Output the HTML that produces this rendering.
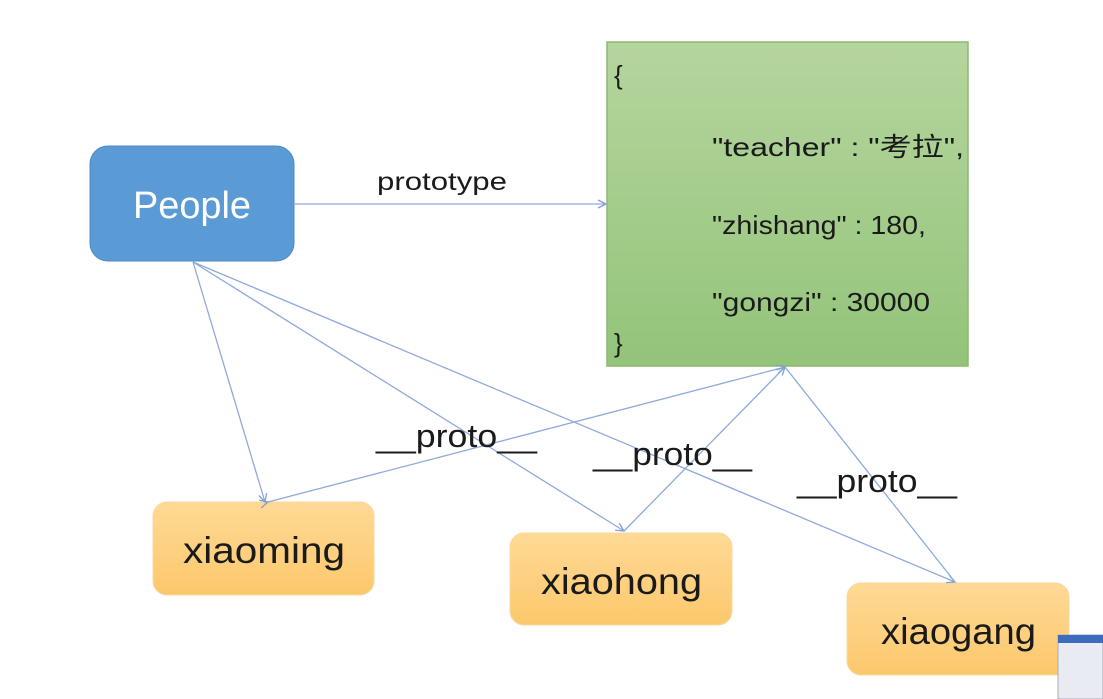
<!DOCTYPE html>
<html><head><meta charset="utf-8"><style>
html,body{margin:0;padding:0;background:#fff;}
svg{display:block;}
text{font-family:"Liberation Sans","Noto Sans CJK SC",sans-serif;}
</style></head><body>
<svg width="1103" height="699" viewBox="0 0 1103 699" xmlns="http://www.w3.org/2000/svg">
<defs>
<marker id="a" markerWidth="10" markerHeight="10" refX="9" refY="5" orient="auto" markerUnits="userSpaceOnUse">
<path d="M1,1 L9,5 L1,9" fill="none" stroke="#7f9fd8" stroke-width="1.3"/></marker>
<linearGradient id="g" x1="0" y1="0" x2="0" y2="1"><stop offset="0" stop-color="#b5d59e"/><stop offset="1" stop-color="#93c47a"/></linearGradient>
<linearGradient id="o" x1="0" y1="0" x2="0" y2="1"><stop offset="0" stop-color="#ffd996"/><stop offset="1" stop-color="#fcc86c"/></linearGradient>
</defs>
<rect x="607" y="42" width="361" height="324" fill="url(#g)" stroke="#8db871" stroke-width="1.5"/>
<text x="614" y="84" font-size="26" fill="#1a1a1a">{</text>
<text x="712" y="156" font-size="26" fill="#1a1a1a" textLength="252" lengthAdjust="spacingAndGlyphs">"teacher" : "考拉",</text>
<text x="712" y="234" font-size="26" fill="#1a1a1a" textLength="214" lengthAdjust="spacingAndGlyphs">"zhishang" : 180,</text>
<text x="712" y="311" font-size="26" fill="#1a1a1a" textLength="218" lengthAdjust="spacingAndGlyphs">"gongzi" : 30000</text>
<text x="614" y="352" font-size="26" fill="#1a1a1a">}</text>
<rect x="90" y="146" width="204" height="115" rx="18" fill="#5b9bd5" stroke="#4f8ac4"/>
<text x="133" y="218" font-size="38" fill="#fff" textLength="118" lengthAdjust="spacingAndGlyphs">People</text>
<rect x="153" y="502" width="221" height="93" rx="14" fill="url(#o)" stroke="#f7d9a0"/>
<text x="183" y="563" font-size="37" fill="#1a1a1a" textLength="162" lengthAdjust="spacingAndGlyphs">xiaoming</text>
<rect x="510" y="533" width="222" height="92" rx="14" fill="url(#o)" stroke="#f7d9a0"/>
<text x="541" y="594" font-size="37" fill="#1a1a1a" textLength="161" lengthAdjust="spacingAndGlyphs">xiaohong</text>
<rect x="847" y="583" width="222" height="92" rx="14" fill="url(#o)" stroke="#f7d9a0"/>
<text x="881" y="644" font-size="37" fill="#1a1a1a" textLength="155" lengthAdjust="spacingAndGlyphs">xiaogang</text>
<g stroke="#8eaadb" stroke-width="1.3" fill="none">
<line x1="294" y1="204" x2="606" y2="204" marker-end="url(#a)"/>
<line x1="193" y1="262" x2="265" y2="502" marker-end="url(#a)"/>
<line x1="193" y1="262" x2="624" y2="531" marker-end="url(#a)"/>
<line x1="193" y1="262" x2="955" y2="582" marker-end="url(#a)"/>
<line x1="268" y1="502" x2="785" y2="367" marker-end="url(#a)" marker-start="url(#a)"/>
<line x1="624" y1="531" x2="785" y2="367" marker-end="url(#a)"/>
<line x1="955" y1="582" x2="785" y2="367"/>
</g>
<text x="377" y="190" font-size="25" fill="#1a1a1a" textLength="130" lengthAdjust="spacingAndGlyphs">prototype</text>
<text x="376" y="447" font-size="32" fill="#1a1a1a" textLength="161" lengthAdjust="spacingAndGlyphs">__proto__</text>
<text x="593" y="465" font-size="32" fill="#1a1a1a" textLength="159" lengthAdjust="spacingAndGlyphs">__proto__</text>
<text x="797" y="492" font-size="32" fill="#1a1a1a" textLength="160" lengthAdjust="spacingAndGlyphs">__proto__</text>
<rect x="1058" y="635" width="45" height="64" fill="#e8ebf2" stroke="#aab"/>
<rect x="1058" y="635" width="45" height="8" fill="#3b6cc0"/>
</svg>
</body></html>
